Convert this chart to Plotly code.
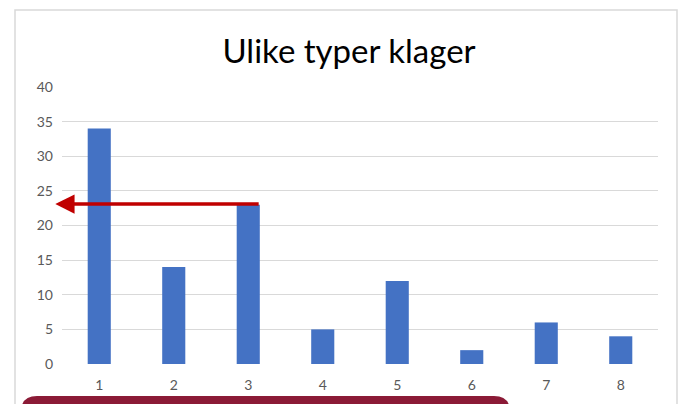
import plotly.graph_objects as go

# Complaint categories and counts
categories = [1, 2, 3, 4, 5, 6, 7, 8]
counts = [34, 14, 23, 5, 12, 2, 6, 4]
y_ticks = [0, 5, 10, 15, 20, 25, 30, 35, 40]
title_text = "Ulike typer klager"

W, H = 679, 404
L, R, T, B = 62, 21, 87, 40
pw, ph = W - L - R, H - T - B


def px(x):
    return (x - L) / pw


def py(y):
    return (H - B - y) / ph


fig = go.Figure(go.Bar(
    x=categories, y=counts,
    marker=dict(color="#4472C4", line=dict(width=0)),
    width=0.31,
))

# Outer chart border
shapes = [dict(type="rect", xref="paper", yref="paper",
               x0=px(15), x1=px(677), y0=py(412), y1=py(10),
               line=dict(color="#D9D9D9", width=1.5), fillcolor="rgba(0,0,0,0)",
               layer="below")]

# Rounded maroon banner at the bottom
x0, x1, y0, y1 = 21, 510, 396, 420
r = 16
path = (f"M {px(x0)},{py(y1)} L {px(x0)},{py(y0 + r)} "
        f"Q {px(x0)},{py(y0)} {px(x0 + r)},{py(y0)} "
        f"L {px(x1 - r)},{py(y0)} Q {px(x1)},{py(y0)} {px(x1)},{py(y0 + r)} "
        f"L {px(x1)},{py(y1)} Z")
shapes.append(dict(type="path", xref="paper", yref="paper", path=path,
                   fillcolor="#8B1A36", line=dict(width=0)))

# Arrow pointing from the third bar back to the value axis
level = counts[2] + 0.1
fig.add_annotation(x=0.41, y=level, ax=categories[2] + 0.16, ay=level,
                   xref="x", yref="y", axref="x", ayref="y",
                   showarrow=True, arrowhead=2, arrowsize=1.1,
                   arrowwidth=3.5, arrowcolor="#C00000", text="")

fig.update_layout(
    width=W, height=H,
    margin=dict(l=L, r=R, t=T, b=B, autoexpand=False),
    paper_bgcolor="white", plot_bgcolor="white",
    shapes=shapes,
    showlegend=False,
    title=dict(text=title_text, x=0.514, xanchor="center", y=1 - 51 / H, yanchor="middle",
               font=dict(family="Lato", size=33, color="#000000")),
    xaxis=dict(range=[0.5, 8.5], tickvals=categories, ticktext=[str(c) for c in categories],
               showgrid=False, zeroline=False, showline=False, ticks="",
               ticklabelstandoff=11, automargin=False,
               tickfont=dict(family="Lato", size=14, color="#595959")),
    yaxis=dict(range=[0, 40], tickvals=y_ticks, showgrid=True, gridcolor="#D9D9D9",
               gridwidth=1, zeroline=False, showline=False, ticks="",
               ticklabelstandoff=8, automargin=False,
               tickfont=dict(family="Lato", size=14, color="#595959")),
)

fig.write_html("out.html")
